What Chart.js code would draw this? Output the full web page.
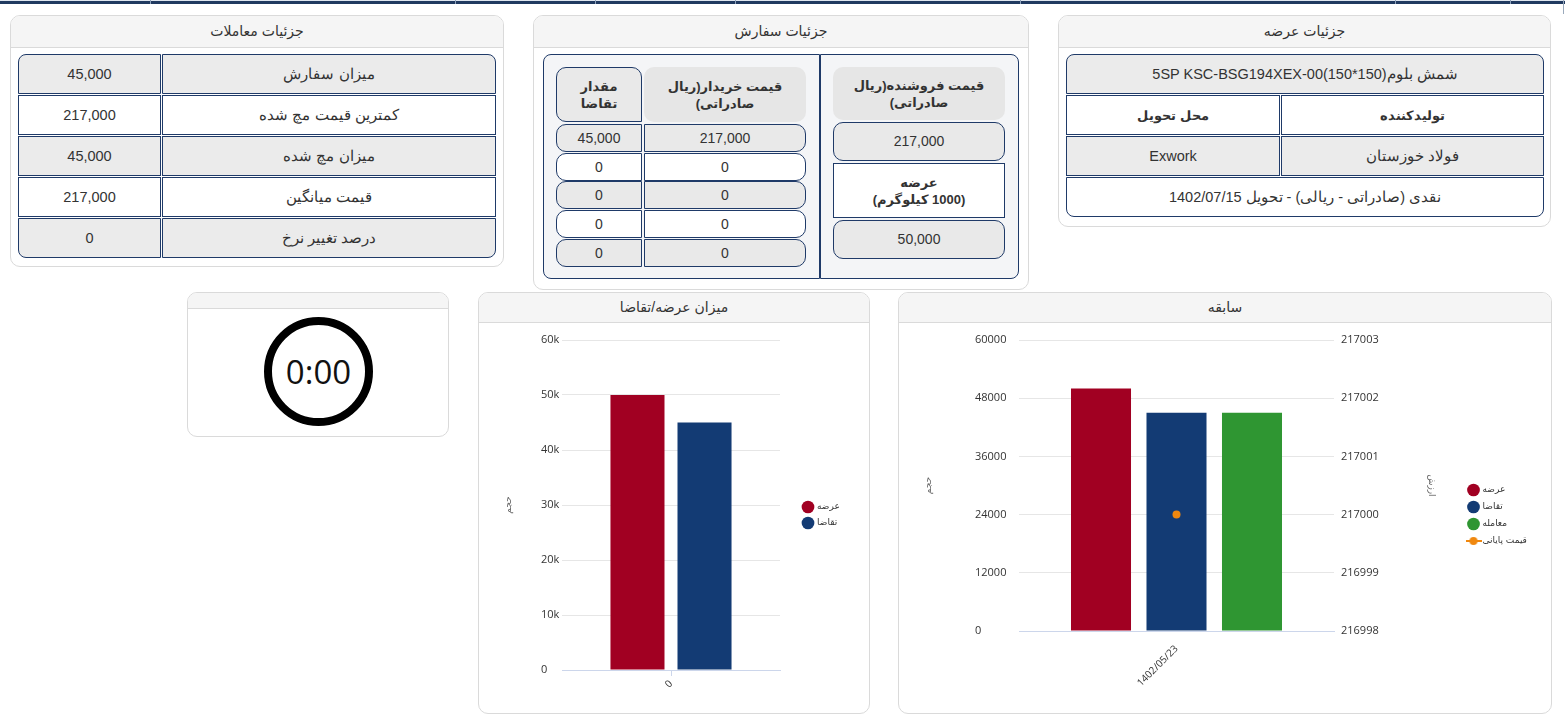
<!DOCTYPE html>
<html lang="fa">
<head>
<meta charset="utf-8">
<title>جزئیات عرضه</title>
<script src="https://cdn.jsdelivr.net/npm/chart.js@4.4.0/dist/chart.umd.min.js"></script>
<style>
  @font-face { font-family:"FaText"; src:local("DejaVu Sans"), local("DejaVuSans"); size-adjust:105%;
               unicode-range:U+0600-06FF, U+200C-200F, U+FB50-FDFF, U+FE70-FEFF; }
  @font-face { font-family:"FaText"; src:local("DejaVu Sans Bold"), local("DejaVuSans-Bold"); font-weight:bold; size-adjust:105%;
               unicode-range:U+0600-06FF, U+200C-200F, U+FB50-FDFF, U+FE70-FEFF; }
  body { margin:0; width:1565px; height:724px; position:relative; background:#fff; overflow:hidden;
         font-family:"Liberation Sans","DejaVu Sans",sans-serif; color:#333; }
  .topbar { position:absolute; left:0; top:0; width:1565px; height:1px; background:#dfe6ef; border-bottom:3px solid #203a60; }
  .topbar i { position:absolute; top:0; width:1px; height:4px; background:#8fa3bd; }
  .edge { position:absolute; left:1563px; top:0; width:1px; height:14px; background:#9aa9bb; }
  .panel { position:absolute; box-sizing:border-box; border:1px solid #dadada; border-radius:10px; background:#fff; overflow:hidden; }
  .hd { height:31px; line-height:31px; background:#f5f5f5; border-bottom:1px solid #dadada; text-align:center; font-size:14px; direction:rtl; }
  .grid { position:absolute; display:grid; gap:1px; direction:rtl; }
  .c { box-sizing:border-box; border:1px solid #1f3a68; display:flex; align-items:center; justify-content:center; text-align:center;
       font-family:"FaText","Liberation Sans","DejaVu Sans",sans-serif; font-size:14.5px; }
  .g { background:#ebebeb; }
  .w { background:#fff; }
  .b { font-weight:bold; font-size:12.5px; }
  .sec { position:absolute; box-sizing:border-box; border:1px solid #1f3a68; background:#f4f5f7; }
  .box { position:absolute; box-sizing:border-box; display:flex; align-items:center; justify-content:center; text-align:center;
         font-size:13px; line-height:17px; direction:rtl; }
  .num { font-size:14px; }
  .ring { position:absolute; box-sizing:border-box; border:8px solid #000; border-radius:50%; display:flex; align-items:center; justify-content:center;
          font-family:"Open Sans",sans-serif; font-size:33px; color:#111; }
  .chartbox { position:absolute; }
</style>
</head>
<body>
<div class="topbar" id="topbar"></div>
<div class="edge"></div>

<!-- جزئیات عرضه -->
<div class="panel" style="left:1058px; top:15px; width:493px; height:212px;">
  <div class="hd">جزئیات عرضه</div>
  <div class="grid" id="offerGrid" style="left:7px; top:38px; width:478px; grid-template-columns:263px 214px; grid-template-rows:40px 40px 40px 40px;"></div>
</div>

<!-- جزئیات سفارش -->
<div class="panel" id="orderPanel" style="left:533px; top:15px; width:496px; height:275px;">
  <div class="hd">جزئیات سفارش</div>
  <div class="sec" style="left:9px; top:38px; width:277px; height:225px; border-radius:8px 0 0 8px;"></div>
  <div class="sec" style="left:286px; top:38px; width:199px; height:225px; border-radius:0 8px 8px 0;"></div>
</div>

<!-- جزئیات معاملات -->
<div class="panel" style="left:10px; top:15px; width:494px; height:252px;">
  <div class="hd">جزئیات معاملات</div>
  <div class="grid" id="tradeGrid" style="left:7px; top:38px; width:478px; grid-template-columns:334px 143px; grid-template-rows:repeat(5, 40px);"></div>
</div>

<!-- تایمر -->
<div class="panel" style="left:187px; top:292px; width:262px; height:145px;">
  <div class="hd" style="height:15px; line-height:15px;"></div>
  <div class="ring" style="left:76px; top:24px; width:109px; height:109px;" id="timer"></div>
</div>

<!-- میزان عرضه/تقاضا -->
<div class="panel" style="left:478px; top:292px; width:392px; height:422px;">
  <div class="hd" style="height:29px; line-height:29px;">میزان عرضه/تقاضا</div>
</div>
<div class="chartbox" style="left:479px; top:323px; width:389px; height:389px;"><canvas id="sdChart"></canvas></div>

<!-- سابقه -->
<div class="panel" style="left:898px; top:292px; width:654px; height:422px;">
  <div class="hd" style="height:29px; line-height:29px;">سابقه</div>
</div>
<div class="chartbox" style="left:899px; top:323px; width:651px; height:389px;"><canvas id="histChart"></canvas></div>

<script>
// ---- table texts ----
const offerProduct = 'شمش بلوم';
const offerCode = '5SP KSC-BSG194XEX-00(150*150)';
const offerHeads = ['تولیدکننده', 'محل تحویل'];
const offerValues = ['فولاد خوزستان', 'Exwork'];
const offerTerms = 'نقدی (صادراتی - ریالی) - تحویل 1402/07/15';

const tradeLabels = ['میزان سفارش', 'کمترین قیمت مچ شده', 'میزان مچ شده', 'قیمت میانگین', 'درصد تغییر نرخ'];
const tradeValues = ['45,000', '217,000', '45,000', '217,000', '0'];

const sellerPrice = '217,000';
const sellerQty = '50,000';
const buyerPrices = ['217,000', '0', '0', '0', '0'];
const buyerQtys = ['45,000', '0', '0', '0', '0'];
const timerText = '0:00';

// ---- chart data ----
const sdCategories = ['0'];
const sdSupply = [50000];
const sdDemand = [45000];
const sdTickLabels = ['0', '10k', '20k', '30k', '40k', '50k', '60k'];

const histDates = ['1402/05/23'];
const histSupply = [50000];
const histDemand = [45000];
const histTraded = [45000];
const histClose = [217000];
const volTicks = [0, 12000, 24000, 36000, 48000, 60000];
const priceTicks = [216998, 216999, 217000, 217001, 217002, 217003];

const seriesNames = ['عرضه', 'تقاضا', 'معامله', 'قیمت پایانی'];
const seriesColors = ['#a10022', '#133b74', '#2f9632', '#f0880f'];

// ---- build tables ----
[150, 455, 595, 735, 1020, 1395, 1510].forEach(x => {
  const i = document.createElement('i'); i.style.left = x + 'px';
  document.getElementById('topbar').appendChild(i);
});

function cell(text, cls, style) {
  return '<div class="c ' + cls + '" style="' + (style || '') + '">' + text + '</div>';
}

document.getElementById('offerGrid').innerHTML =
  cell(offerProduct + ' <span dir="ltr">' + offerCode + '</span>', 'g', 'grid-column:1 / span 2; border-radius:8px 8px 0 0;') +
  cell(offerHeads[0], 'w b') + cell(offerHeads[1], 'w b') +
  cell(offerValues[0], 'g') + cell(offerValues[1], 'g') +
  cell(offerTerms, 'w', 'grid-column:1 / span 2; border-radius:0 0 8px 8px;');

let tg = '';
tradeLabels.forEach((lab, i) => {
  const bg = i % 2 === 0 ? 'g' : 'w';
  const last = i === tradeLabels.length - 1;
  const rR = i === 0 ? 'border-radius:0 8px 0 0;' : last ? 'border-radius:0 0 8px 0;' : '';
  const rL = i === 0 ? 'border-radius:8px 0 0 0;' : last ? 'border-radius:0 0 0 8px;' : '';
  tg += cell(lab, bg, rR) + cell(tradeValues[i], bg, rL);
});
document.getElementById('tradeGrid').innerHTML = tg;

function box(text, l, t, w, h, extra, cls) {
  return '<div class="box ' + (cls || '') + '" style="left:' + l + 'px; top:' + t + 'px; width:' + w + 'px; height:' + h + 'px; ' + (extra || '') + '">' + text + '</div>';
}
let ob = '';
ob += box('قیمت فروشنده(ریال<br>صادراتی)', 299, 51, 172, 53, 'background:#e6e6e6; border-radius:10px; font-weight:bold;');
ob += box(sellerPrice, 299, 106, 172, 39, 'background:#e9e9e9; border:1px solid #1f3a68; border-radius:10px;', 'num');
ob += box('عرضه<br>(1000 کیلوگرم)', 299, 147, 172, 55, 'background:#fff; border:1px solid #1f3a68; font-weight:bold;');
ob += box(sellerQty, 299, 204, 172, 39, 'background:#e9e9e9; border:1px solid #1f3a68; border-radius:10px;', 'num');
ob += box('مقدار<br>تقاضا', 22, 51, 86, 55, 'background:#e9e9e9; border:1px solid #1f3a68; border-radius:10px 10px 0 10px; font-weight:bold;');
ob += box('قیمت خریدار(ریال<br>صادراتی)', 110, 51, 162, 55, 'background:#e6e6e6; border-radius:10px; font-weight:bold;');
const rowTops = [108, 137, 165, 194, 223];
rowTops.forEach((t, i) => {
  const bg = i % 2 === 0 ? '#e9e9e9' : '#fff';
  ob += box(buyerQtys[i], 22, t, 86, 28, 'background:' + bg + '; border:1px solid #1f3a68; border-radius:10px 0 0 10px;', 'num');
  ob += box(buyerPrices[i], 110, t, 162, 28, 'background:' + bg + '; border:1px solid #1f3a68; border-radius:0 10px 10px 0;', 'num');
});
document.getElementById('orderPanel').insertAdjacentHTML('beforeend', ob);
document.getElementById('timer').textContent = timerText;

// ---- charts ----
Chart.defaults.font.family = '"Open Sans", "DejaVu Sans", sans-serif';
Chart.defaults.color = '#333';

// fixes the legend width and nudges it so the plot keeps its place
const legendNudge = {
  id: 'legendNudge',
  beforeLayout(chart, args, opts) {
    const lg = chart.legend;
    if (lg && !lg._nudged) {
      const fit = lg.fit;
      lg.fit = function () { fit.call(this); this.width = opts.width; };
      lg._nudged = true;
    }
  },
  afterLayout(chart, args, opts) {
    const lg = chart.legend;
    lg.left += opts.dx; lg.right += opts.dx;
    lg.top += opts.dy; lg.bottom += opts.dy;
  }
};

const lineMarker = document.createElement('canvas');
lineMarker.width = 16; lineMarker.height = 10;
(function () {
  const c = lineMarker.getContext('2d');
  c.strokeStyle = seriesColors[3]; c.lineWidth = 2;
  c.beginPath(); c.moveTo(0, 5); c.lineTo(16, 5); c.stroke();
  c.fillStyle = seriesColors[3];
  c.beginPath(); c.arc(8, 5, 4, 0, Math.PI * 2); c.fill();
})();

function legendLabels(chart) {
  const items = Chart.defaults.plugins.legend.labels.generateLabels(chart);
  items.forEach(it => {
    if (chart.data.datasets[it.datasetIndex].type === 'line') it.pointStyle = lineMarker;
  });
  return items;
}

// tick labels sit left-aligned at the scale's left edge, the title further out
const axisTitle = (text, top) => ({ display: true, text, color: '#666', font: { size: 9 }, padding: { top, bottom: 0 } });

new Chart(document.getElementById('sdChart'), {
  type: 'bar',
  data: {
    labels: sdCategories,
    datasets: [
      { label: seriesNames[0], data: sdSupply, backgroundColor: seriesColors[0] },
      { label: seriesNames[1], data: sdDemand, backgroundColor: seriesColors[1] }
    ]
  },
  options: {
    responsive: true,
    maintainAspectRatio: false,
    animation: false,
    layout: { padding: { left: 62, top: 17, right: 38, bottom: 20 } },
    datasets: { bar: { categoryPercentage: 0.615, barPercentage: 0.806, borderWidth: 0 } },
    scales: {
      x: {
        grid: { display: true, drawOnChartArea: false, drawTicks: true, tickLength: 6, offset: false, color: '#ccd6eb' },
        border: { color: '#ccd6eb' },
        ticks: { minRotation: 45, maxRotation: 45, padding: 2, font: { size: 10 } },
        afterFit: s => { s.height = 22; }
      },
      y: {
        min: 0, max: 60000,
        ticks: { stepSize: 10000, padding: 0, crossAlign: 'far', font: { size: 11 }, callback: (v, i) => sdTickLabels[i] },
        grid: { color: '#e6e6e6', drawTicks: false },
        border: { display: false },
        title: axisTitle('حجم', -38),
        afterFit: s => { s.width = 21; }
      }
    },
    plugins: {
      legend: {
        position: 'right',
        labels: { usePointStyle: true, pointStyle: 'circle', padding: 7, color: '#333', font: { size: 9, family: '"DejaVu Sans", sans-serif' } }
      },
      tooltip: { enabled: false },
      legendNudge: { width: 50, dx: 16.5, dy: -1 }
    }
  },
  plugins: [legendNudge]
});

new Chart(document.getElementById('histChart'), {
  type: 'bar',
  data: {
    labels: histDates,
    datasets: [
      { label: seriesNames[0], data: histSupply, backgroundColor: seriesColors[0], yAxisID: 'y', order: 1 },
      { label: seriesNames[1], data: histDemand, backgroundColor: seriesColors[1], yAxisID: 'y', order: 1 },
      { label: seriesNames[2], data: histTraded, backgroundColor: seriesColors[2], yAxisID: 'y', order: 1 },
      { type: 'line', label: seriesNames[3], data: histClose, yAxisID: 'y1', order: 0,
        borderColor: seriesColors[3], backgroundColor: seriesColors[3], borderWidth: 2,
        pointRadius: 4, pointBorderWidth: 0, pointStyle: 'circle' }
    ]
  },
  options: {
    responsive: true,
    maintainAspectRatio: false,
    animation: false,
    layout: { padding: { left: 76, top: 17, right: 43, bottom: 1 } },
    datasets: { bar: { categoryPercentage: 0.719, barPercentage: 0.795, borderWidth: 0 } },
    scales: {
      x: {
        grid: { display: false },
        border: { display: true, color: '#ccd6eb' },
        ticks: { minRotation: 45, maxRotation: 45, padding: 4, font: { size: 10 } },
        afterFit: s => { s.height = 80; }
      },
      y: {
        position: 'left',
        min: volTicks[0], max: volTicks[volTicks.length - 1],
        afterBuildTicks: s => { s.ticks = volTicks.map(v => ({ value: v })); },
        ticks: { padding: 0, crossAlign: 'far', font: { size: 11 }, callback: v => String(v) },
        grid: { color: '#e6e6e6', drawTicks: false },
        border: { display: false },
        title: axisTitle('حجم', -52.4),
        afterFit: s => { s.width = 44; }
      },
      y1: {
        position: 'right',
        min: priceTicks[0], max: priceTicks[priceTicks.length - 1],
        afterBuildTicks: s => { s.ticks = priceTicks.map(v => ({ value: v })); },
        ticks: { padding: 7, font: { size: 11 }, callback: v => String(v) },
        grid: { drawOnChartArea: false, drawTicks: false },
        border: { display: false },
        title: axisTitle('ارزش', 0),
        afterFit: s => { s.width = 103; }
      }
    },
    plugins: {
      legend: {
        position: 'right',
        labels: {
          usePointStyle: true, padding: 8, color: '#333',
          font: { size: 9, family: '"DejaVu Sans", sans-serif' },
          generateLabels: legendLabels,
          sort: (a, b) => a.datasetIndex - b.datasetIndex
        }
      },
      tooltip: { enabled: false },
      legendNudge: { width: 70, dx: 24, dy: -10 }
    }
  },
  plugins: [legendNudge]
});
</script>
</body>
</html>
